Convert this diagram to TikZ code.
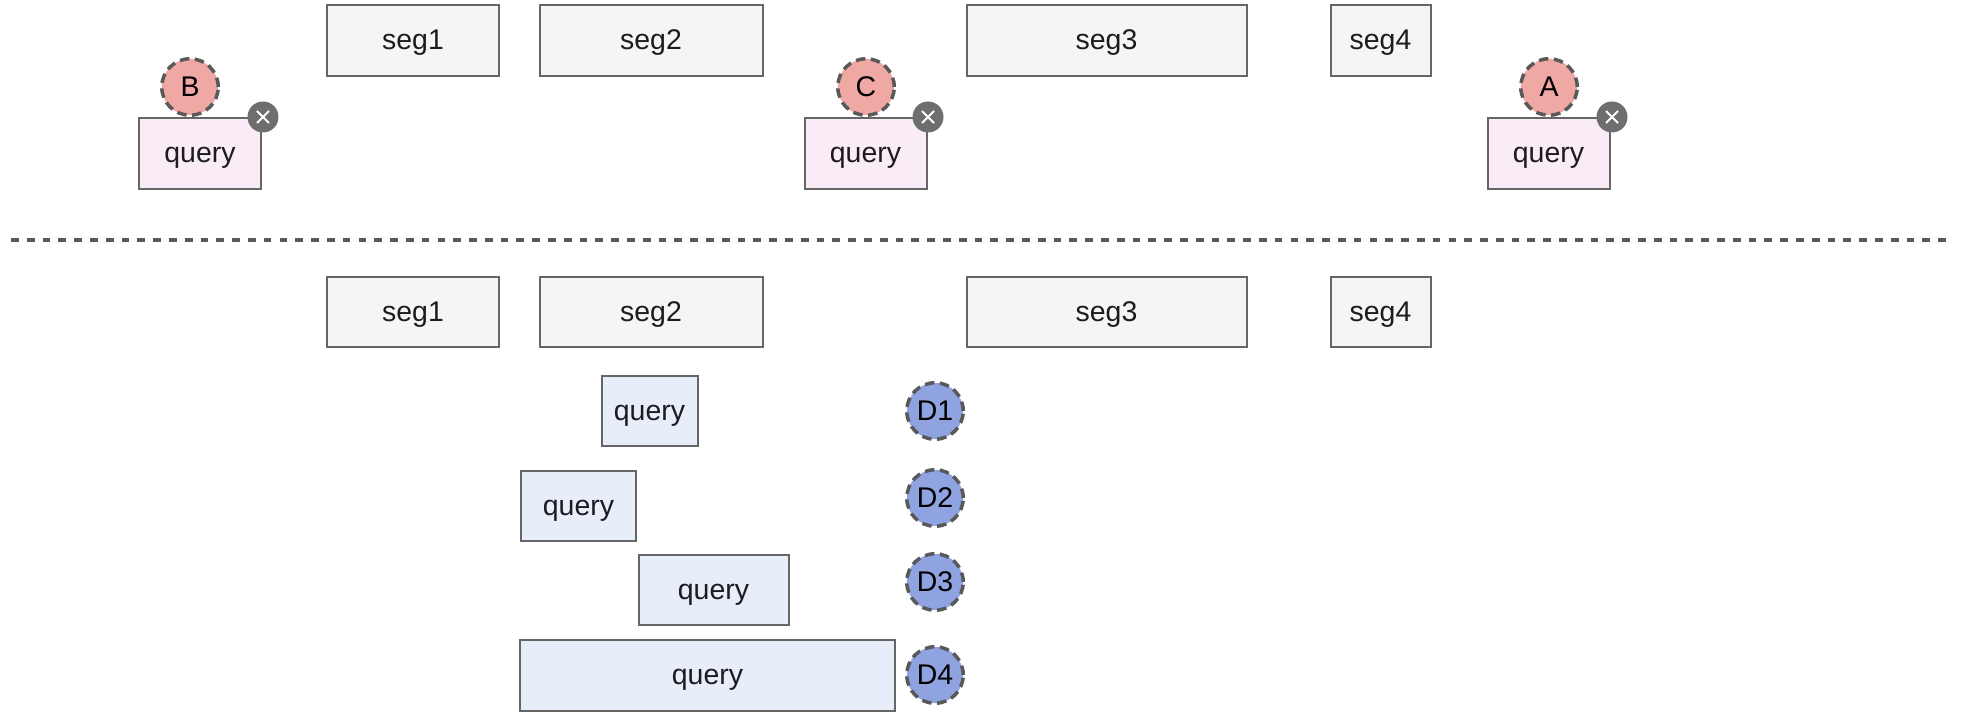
\documentclass[tikz,border=0pt]{standalone}
\usepackage{fontspec}
\setmainfont{Liberation Sans}
\usetikzlibrary{positioning}
\definecolor{segFill}{RGB}{245, 245, 245}
\definecolor{edgeColor}{RGB}{102, 102, 102}
\definecolor{dashColor}{RGB}{89, 89, 89}
\definecolor{missFill}{RGB}{249, 236, 246}
\definecolor{hitFill}{RGB}{232, 237, 250}
\definecolor{missDot}{RGB}{240, 168, 165}
\definecolor{hitDot}{RGB}{143, 163, 224}
\definecolor{badgeColor}{RGB}{110, 110, 110}
\definecolor{textColor}{RGB}{28, 28, 32}

\begin{document}
\begin{tikzpicture}[
    x=0.02cm, y=-0.02cm,
    box/.style={
        rectangle,
        draw=edgeColor,
        line width=0.04cm,
        minimum height=1.42cm,
        minimum width=#1*0.02cm,
        inner sep=0pt,
        text height=0.37cm,
        text depth=0pt,
        text=textColor,
        font=\fontsize{16.2pt}{18pt}\selectfont
    },
    seg/.style={box=#1, fill=segFill},
    miss/.style={box=#1, fill=missFill},
    hit/.style={box=#1, fill=hitFill},
    dot/.style={
        circle,
        draw=dashColor,
        fill=#1,
        line width=0.07cm,
        dash pattern=on 0.19cm off 0.11cm,
        minimum size=1.13cm,
        inner sep=0pt,
        text height=0.38cm,
        text depth=0pt,
        text=black,
        font=\fontsize{16.2pt}{18pt}\selectfont
    },
    badge/.style={
        circle,
        fill=badgeColor,
        minimum size=0.62cm,
        inner sep=0pt
    }
]
    \useasboundingbox (0,0) rectangle (1967,715);

    % Upper segments
    \foreach \n/\x/\w in {1/413/172, 2/651/223, 3/1106.5/280, 4/1380.5/100} {
        \node[seg=\w] (segTop\n) at (\x,40.5) {seg\n};
    }

    % Evicted queries
    \foreach \n/\x/\dotx/\badgex in {B/200/190/263, C/865.5/866/928, A/1548.5/1549/1612} {
        \node[miss=122] (miss\n) at (\x,153.5) {query};
        \node[dot=missDot] (dot\n) at (\dotx,87) {\n};
        \node[badge] (badge\n) at (\badgex,117) {};
        \draw[white, line width=0.04cm] (badge\n.center) ++(-6,-6) -- ++(12,12);
        \draw[white, line width=0.04cm] (badge\n.center) ++(-6,6) -- ++(12,-12);
    }

    % Divider
    \coordinate (divLeft) at (11,240);
    \coordinate (divRight) at (1952,240);
    \draw[dashColor, line width=0.08cm, dash pattern=on 0.155cm off 0.161cm] (divLeft) -- (divRight);

    % Lower segments
    \foreach \n/\x/\w in {1/413/172, 2/651/223, 3/1106.5/280, 4/1380.5/100} {
        \node[seg=\w] (segLow\n) at (\x,312) {seg\n};
    }

    % Admitted queries
    \foreach \n/\x/\y/\w/\doty in {1/649.5/411/96/411, 2/578.5/506/115.5/498, 3/713.5/590/150/582, 4/707.5/675.5/375/675} {
        \node[hit=\w] (hit\n) at (\x,\y) {query};
        \node[dot=hitDot] (dotD\n) at (935,\doty) {D\n};
    }
\end{tikzpicture}
\end{document}
